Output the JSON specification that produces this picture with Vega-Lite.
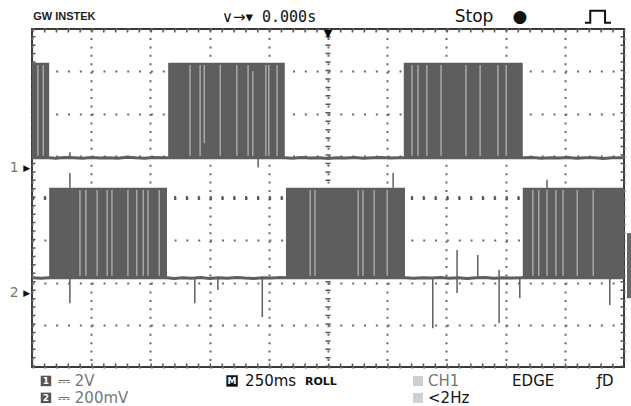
{
  "$schema": "https://vega.github.io/schema/vega-lite/v6.json",
  "width": 592,
  "height": 338,
  "autosize": "none",
  "padding": {"left": 32, "top": 29, "right": 7, "bottom": 39},
  "background": "white",
  "config": {
    "view": {"stroke": "#3a3a3a", "strokeWidth": 2},
    "axis": {"grid": true, "labels": false, "ticks": false, "domain": false, "gridColor": "#6a6a6a", "gridWidth": 2, "gridOpacity": 1},
    "axisX": {"tickCount": 10, "gridDash": [2, 6.45]},
    "axisY": {"tickCount": 8, "gridDash": [2, 9.84]},
    "text": {"font": "DejaVu Sans"}
  },
  "datasets": {
    "blocks": [
      {"ch": "1", "t": 0, "t2": 0.29, "v": 4.95, "v2": 7.2},
      {"ch": "1", "t": 2.3, "t2": 4.27, "v": 4.95, "v2": 7.2},
      {"ch": "1", "t": 6.28, "t2": 8.29, "v": 4.95, "v2": 7.2},
      {"ch": "2", "t": 0.29, "t2": 2.28, "v": 2.11, "v2": 4.24},
      {"ch": "2", "t": 4.29, "t2": 6.3, "v": 2.11, "v2": 4.24},
      {"ch": "2", "t": 8.29, "t2": 10, "v": 2.11, "v2": 4.24}
    ],
    "base": [
      {"ch": "1", "t": 0, "v": 4.95}, {"ch": "1", "t": 0.29, "v": 4.955}, {"ch": "1", "t": 0.4, "v": 4.94}, {"ch": "1", "t": 0.55, "v": 4.96}, {"ch": "1", "t": 0.7, "v": 4.95}, {"ch": "1", "t": 0.85, "v": 4.94}, {"ch": "1", "t": 1.0, "v": 4.96}, {"ch": "1", "t": 1.15, "v": 4.945}, {"ch": "1", "t": 1.3, "v": 4.955}, {"ch": "1", "t": 1.45, "v": 4.94}, {"ch": "1", "t": 1.6, "v": 4.965}, {"ch": "1", "t": 1.75, "v": 4.95}, {"ch": "1", "t": 1.9, "v": 4.94}, {"ch": "1", "t": 2.05, "v": 4.96}, {"ch": "1", "t": 2.2, "v": 4.95}, {"ch": "1", "t": 2.3, "v": 4.95},
      {"ch": "1", "t": 4.27, "v": 4.95}, {"ch": "1", "t": 4.4, "v": 4.94}, {"ch": "1", "t": 4.55, "v": 4.96}, {"ch": "1", "t": 4.7, "v": 4.945}, {"ch": "1", "t": 4.85, "v": 4.955}, {"ch": "1", "t": 5.0, "v": 4.935}, {"ch": "1", "t": 5.15, "v": 4.955}, {"ch": "1", "t": 5.3, "v": 4.945}, {"ch": "1", "t": 5.45, "v": 4.96}, {"ch": "1", "t": 5.6, "v": 4.94}, {"ch": "1", "t": 5.75, "v": 4.95}, {"ch": "1", "t": 5.9, "v": 4.96}, {"ch": "1", "t": 6.05, "v": 4.945}, {"ch": "1", "t": 6.2, "v": 4.955}, {"ch": "1", "t": 6.28, "v": 4.95},
      {"ch": "1", "t": 8.29, "v": 4.95}, {"ch": "1", "t": 8.45, "v": 4.96}, {"ch": "1", "t": 8.6, "v": 4.94}, {"ch": "1", "t": 8.75, "v": 4.955}, {"ch": "1", "t": 8.9, "v": 4.945}, {"ch": "1", "t": 9.05, "v": 4.96}, {"ch": "1", "t": 9.2, "v": 4.94}, {"ch": "1", "t": 9.35, "v": 4.955}, {"ch": "1", "t": 9.5, "v": 4.95}, {"ch": "1", "t": 9.65, "v": 4.935}, {"ch": "1", "t": 9.8, "v": 4.955}, {"ch": "1", "t": 10, "v": 4.95},
      {"ch": "2", "t": 0, "v": 2.115}, {"ch": "2", "t": 0.15, "v": 2.1}, {"ch": "2", "t": 0.29, "v": 2.11},
      {"ch": "2", "t": 2.28, "v": 2.11}, {"ch": "2", "t": 2.4, "v": 2.095}, {"ch": "2", "t": 2.55, "v": 2.115}, {"ch": "2", "t": 2.7, "v": 2.1}, {"ch": "2", "t": 2.85, "v": 2.12}, {"ch": "2", "t": 3.0, "v": 2.095}, {"ch": "2", "t": 3.15, "v": 2.11}, {"ch": "2", "t": 3.3, "v": 2.1}, {"ch": "2", "t": 3.45, "v": 2.12}, {"ch": "2", "t": 3.6, "v": 2.105}, {"ch": "2", "t": 3.75, "v": 2.095}, {"ch": "2", "t": 3.9, "v": 2.115}, {"ch": "2", "t": 4.05, "v": 2.105}, {"ch": "2", "t": 4.2, "v": 2.12}, {"ch": "2", "t": 4.29, "v": 2.11},
      {"ch": "2", "t": 6.3, "v": 2.11}, {"ch": "2", "t": 6.45, "v": 2.1}, {"ch": "2", "t": 6.6, "v": 2.115}, {"ch": "2", "t": 6.75, "v": 2.105}, {"ch": "2", "t": 6.9, "v": 2.12}, {"ch": "2", "t": 7.05, "v": 2.1}, {"ch": "2", "t": 7.2, "v": 2.115}, {"ch": "2", "t": 7.35, "v": 2.095}, {"ch": "2", "t": 7.5, "v": 2.11}, {"ch": "2", "t": 7.65, "v": 2.12}, {"ch": "2", "t": 7.8, "v": 2.1}, {"ch": "2", "t": 7.95, "v": 2.115}, {"ch": "2", "t": 8.1, "v": 2.105}, {"ch": "2", "t": 8.29, "v": 2.11},
      {"ch": "2", "t": 10, "v": 2.11}
    ],
    "stripes": [
      {"t": 0.1, "v": 5.0, "v2": 7.15}, {"t": 0.19, "v": 5.0, "v2": 7.15},
      {"t": 2.67, "v": 5.0, "v2": 7.15}, {"t": 2.84, "v": 5.0, "v2": 7.15}, {"t": 2.91, "v": 5.3, "v2": 7.15}, {"t": 3.18, "v": 5.0, "v2": 7.15}, {"t": 3.46, "v": 5.0, "v2": 7.15}, {"t": 3.65, "v": 5.0, "v2": 7.15}, {"t": 3.73, "v": 5.0, "v2": 7.0}, {"t": 3.95, "v": 5.0, "v2": 7.15}, {"t": 4.0, "v": 5.0, "v2": 7.15}, {"t": 4.14, "v": 5.0, "v2": 7.15},
      {"t": 6.42, "v": 5.0, "v2": 7.15}, {"t": 6.52, "v": 5.0, "v2": 7.15}, {"t": 6.67, "v": 5.0, "v2": 7.15}, {"t": 6.91, "v": 5.0, "v2": 7.15}, {"t": 7.33, "v": 5.0, "v2": 7.15}, {"t": 7.57, "v": 5.0, "v2": 7.15}, {"t": 7.87, "v": 5.0, "v2": 7.15}, {"t": 8.01, "v": 5.0, "v2": 7.15},
      {"t": 0.81, "v": 2.16, "v2": 4.19}, {"t": 0.91, "v": 2.16, "v2": 4.19}, {"t": 1.1, "v": 2.16, "v2": 4.19}, {"t": 1.27, "v": 2.16, "v2": 4.19}, {"t": 1.35, "v": 2.16, "v2": 4.19}, {"t": 1.62, "v": 2.16, "v2": 4.19}, {"t": 1.77, "v": 2.16, "v2": 4.19}, {"t": 1.88, "v": 2.16, "v2": 4.19}, {"t": 1.96, "v": 2.16, "v2": 4.19}, {"t": 2.15, "v": 2.16, "v2": 4.19},
      {"t": 4.7, "v": 2.16, "v2": 4.19}, {"t": 4.78, "v": 2.16, "v2": 4.19}, {"t": 5.51, "v": 2.16, "v2": 4.19}, {"t": 5.59, "v": 2.16, "v2": 4.19}, {"t": 5.78, "v": 2.16, "v2": 4.19}, {"t": 6.0, "v": 2.16, "v2": 4.19},
      {"t": 8.46, "v": 2.16, "v2": 4.19}, {"t": 8.56, "v": 2.16, "v2": 4.19}, {"t": 8.7, "v": 2.16, "v2": 4.19}, {"t": 8.85, "v": 2.16, "v2": 4.19}, {"t": 8.97, "v": 2.16, "v2": 4.19}, {"t": 9.21, "v": 2.16, "v2": 4.19}, {"t": 9.48, "v": 2.16, "v2": 4.19}
    ],
    "spikes": [
      {"t": 0.64, "v": 4.24, "v2": 4.59}, {"t": 0.64, "v": 2.11, "v2": 1.51},
      {"t": 2.75, "v": 2.11, "v2": 1.51}, {"t": 3.14, "v": 2.11, "v2": 1.82}, {"t": 3.89, "v": 2.11, "v2": 1.18},
      {"t": 6.1, "v": 4.24, "v2": 4.59}, {"t": 6.77, "v": 2.11, "v2": 0.92}, {"t": 7.18, "v": 2.77, "v2": 1.75},
      {"t": 7.53, "v": 2.11, "v2": 2.65}, {"t": 7.89, "v": 2.3, "v2": 1.04}, {"t": 8.24, "v": 2.11, "v2": 1.63},
      {"t": 8.7, "v": 4.24, "v2": 4.43}, {"t": 9.76, "v": 2.11, "v2": 1.47},
      {"t": 3.82, "v": 4.95, "v2": 4.72}, {"t": 0.64, "v": 4.95, "v2": 5.08}
    ]
  },
  "layer": [
    {
      "data": {"values": [{"t": 5, "v": 0, "v2": 8}]},
      "mark": {"type": "rule", "color": "#555", "strokeWidth": 5, "strokeDash": [1.5, 6.95]},
      "encoding": {
        "x": {"field": "t", "type": "quantitative", "title": null, "scale": {"domain": [0, 10], "nice": false, "zero": false}},
        "y": {"field": "v", "type": "quantitative", "title": null, "scale": {"domain": [0, 8], "nice": false, "zero": false}},
        "y2": {"field": "v2"}
      }
    },
    {
      "data": {"values": [{"t": 0, "t2": 10, "v": 4}]},
      "mark": {"type": "rule", "color": "#555", "strokeWidth": 4, "strokeDash": [2, 9.84]},
      "encoding": {
        "x": {"field": "t", "type": "quantitative", "title": null, "scale": {"domain": [0, 10], "nice": false, "zero": false}},
        "x2": {"field": "t2"},
        "y": {"field": "v", "type": "quantitative", "title": null, "scale": {"domain": [0, 8], "nice": false, "zero": false}}
      }
    },
    {
      "data": {"values": [{"t": 0, "v": 0, "v2": 8}, {"t": 10, "v": 0, "v2": 8}]},
      "mark": {"type": "rule", "color": "#555", "strokeWidth": 7, "strokeDash": [1.5, 6.95], "clip": true},
      "encoding": {
        "x": {"field": "t", "type": "quantitative", "title": null, "scale": {"domain": [0, 10], "nice": false, "zero": false}},
        "y": {"field": "v", "type": "quantitative", "title": null, "scale": {"domain": [0, 8], "nice": false, "zero": false}},
        "y2": {"field": "v2"}
      }
    },
    {
      "data": {"values": [{"t": 0, "t2": 10, "v": 0}, {"t": 0, "t2": 10, "v": 8}]},
      "mark": {"type": "rule", "color": "#555", "strokeWidth": 7, "strokeDash": [1.5, 10.34], "clip": true},
      "encoding": {
        "x": {"field": "t", "type": "quantitative", "title": null, "scale": {"domain": [0, 10], "nice": false, "zero": false}},
        "x2": {"field": "t2"},
        "y": {"field": "v", "type": "quantitative", "title": null, "scale": {"domain": [0, 8], "nice": false, "zero": false}}
      }
    },
    {
      "data": {"name": "blocks"},
      "mark": {"type": "rect", "color": "#5e5e5e"},
      "encoding": {
        "x": {"field": "t", "type": "quantitative", "title": null, "scale": {"domain": [0, 10], "nice": false, "zero": false}},
        "x2": {"field": "t2"},
        "y": {"field": "v", "type": "quantitative", "title": null, "scale": {"domain": [0, 8], "nice": false, "zero": false}},
        "y2": {"field": "v2"}
      }
    },
    {
      "data": {"name": "base"},
      "mark": {"type": "line", "color": "#5e5e5e", "strokeWidth": 3},
      "encoding": {
        "x": {"field": "t", "type": "quantitative", "title": null, "scale": {"domain": [0, 10], "nice": false, "zero": false}},
        "y": {"field": "v", "type": "quantitative", "title": null, "scale": {"domain": [0, 8], "nice": false, "zero": false}},
        "detail": {"field": "ch"}
      }
    },
    {
      "data": {"name": "stripes"},
      "mark": {"type": "rule", "color": "#a8a8a8", "strokeWidth": 1.5},
      "encoding": {
        "x": {"field": "t", "type": "quantitative", "title": null, "scale": {"domain": [0, 10], "nice": false, "zero": false}},
        "y": {"field": "v", "type": "quantitative", "title": null, "scale": {"domain": [0, 8], "nice": false, "zero": false}},
        "y2": {"field": "v2"}
      }
    },
    {
      "data": {"name": "spikes"},
      "mark": {"type": "rule", "color": "#5e5e5e", "strokeWidth": 1.5},
      "encoding": {
        "x": {"field": "t", "type": "quantitative", "title": null, "scale": {"domain": [0, 10], "nice": false, "zero": false}},
        "y": {"field": "v", "type": "quantitative", "title": null, "scale": {"domain": [0, 8], "nice": false, "zero": false}},
        "y2": {"field": "v2"}
      }
    },
    {
      "data": {"values": [{"t": 10.05, "t2": 10.12, "v": 1.63, "v2": 3.17}]},
      "mark": {"type": "rect", "color": "#666"},
      "encoding": {
        "x": {"field": "t", "type": "quantitative", "title": null, "scale": {"domain": [0, 10], "nice": false, "zero": false}},
        "x2": {"field": "t2"},
        "y": {"field": "v", "type": "quantitative", "title": null, "scale": {"domain": [0, 8], "nice": false, "zero": false}},
        "y2": {"field": "v2"}
      }
    },
    {
      "data": {"values": [{"t": 5, "v": 7.88, "label": "▼"}]},
      "mark": {"type": "text", "fontSize": 11, "color": "black", "align": "center", "baseline": "middle"},
      "encoding": {
        "x": {"field": "t", "type": "quantitative", "title": null, "scale": {"domain": [0, 10], "nice": false, "zero": false}},
        "y": {"field": "v", "type": "quantitative", "title": null, "scale": {"domain": [0, 8], "nice": false, "zero": false}},
        "text": {"field": "label"}
      }
    },
    {
      "data": {"values": [{"t": 0.02, "v": 8.28, "label": "GW INSTEK"}]},
      "mark": {"type": "text", "font": "Liberation Sans", "fontWeight": "bold", "fontSize": 11, "color": "#222", "align": "left", "baseline": "middle"},
      "encoding": {
        "x": {"field": "t", "type": "quantitative", "title": null, "scale": {"domain": [0, 10], "nice": false, "zero": false}},
        "y": {"field": "v", "type": "quantitative", "title": null, "scale": {"domain": [0, 8], "nice": false, "zero": false}},
        "text": {"field": "label"}
      }
    },
    {
      "data": {"values": [{"t": 3.21, "v": 8.28, "label": "∨→▾"}]},
      "mark": {"type": "text", "fontSize": 15, "color": "#111", "align": "left", "baseline": "middle"},
      "encoding": {
        "x": {"field": "t", "type": "quantitative", "title": null, "scale": {"domain": [0, 10], "nice": false, "zero": false}},
        "y": {"field": "v", "type": "quantitative", "title": null, "scale": {"domain": [0, 8], "nice": false, "zero": false}},
        "text": {"field": "label"}
      }
    },
    {
      "data": {"values": [{"t": 3.885, "v": 8.28, "label": "0.000s"}]},
      "mark": {"type": "text", "font": "DejaVu Sans Mono", "fontSize": 15, "color": "#111", "align": "left", "baseline": "middle"},
      "encoding": {
        "x": {"field": "t", "type": "quantitative", "title": null, "scale": {"domain": [0, 10], "nice": false, "zero": false}},
        "y": {"field": "v", "type": "quantitative", "title": null, "scale": {"domain": [0, 8], "nice": false, "zero": false}},
        "text": {"field": "label"}
      }
    },
    {
      "data": {"values": [{"t": 7.14, "v": 8.28, "label": "Stop"}]},
      "mark": {"type": "text", "fontSize": 17, "color": "#111", "align": "left", "baseline": "middle"},
      "encoding": {
        "x": {"field": "t", "type": "quantitative", "title": null, "scale": {"domain": [0, 10], "nice": false, "zero": false}},
        "y": {"field": "v", "type": "quantitative", "title": null, "scale": {"domain": [0, 8], "nice": false, "zero": false}},
        "text": {"field": "label"}
      }
    },
    {
      "data": {"values": [{"t": 8.24, "v": 8.28, "label": "●"}]},
      "mark": {"type": "text", "fontSize": 17, "color": "#111", "align": "center", "baseline": "middle"},
      "encoding": {
        "x": {"field": "t", "type": "quantitative", "title": null, "scale": {"domain": [0, 10], "nice": false, "zero": false}},
        "y": {"field": "v", "type": "quantitative", "title": null, "scale": {"domain": [0, 8], "nice": false, "zero": false}},
        "text": {"field": "label"}
      }
    },
    {
      "data": {"values": [
        {"i": 1, "t": 9.34, "v": 8.15}, {"i": 2, "t": 9.43, "v": 8.15}, {"i": 3, "t": 9.43, "v": 8.43},
        {"i": 4, "t": 9.68, "v": 8.43}, {"i": 5, "t": 9.68, "v": 8.15}, {"i": 6, "t": 9.78, "v": 8.15}
      ]},
      "mark": {"type": "line", "color": "#111", "strokeWidth": 2, "interpolate": "linear"},
      "encoding": {
        "x": {"field": "t", "type": "quantitative", "title": null, "scale": {"domain": [0, 10], "nice": false, "zero": false}},
        "y": {"field": "v", "type": "quantitative", "title": null, "scale": {"domain": [0, 8], "nice": false, "zero": false}},
        "order": {"field": "i"}
      }
    },
    {
      "data": {"values": [{"t": -0.30, "v": 4.71, "label": "1"}, {"t": -0.30, "v": 1.75, "label": "2"}]},
      "mark": {"type": "text", "fontSize": 14, "color": "#777", "align": "center", "baseline": "middle"},
      "encoding": {
        "x": {"field": "t", "type": "quantitative", "title": null, "scale": {"domain": [0, 10], "nice": false, "zero": false}},
        "y": {"field": "v", "type": "quantitative", "title": null, "scale": {"domain": [0, 8], "nice": false, "zero": false}},
        "text": {"field": "label"}
      }
    },
    {
      "data": {"values": [{"t": -0.09, "v": 4.71, "label": "▶"}, {"t": -0.09, "v": 1.75, "label": "▶"}]},
      "mark": {"type": "text", "fontSize": 9, "color": "#111", "align": "center", "baseline": "middle"},
      "encoding": {
        "x": {"field": "t", "type": "quantitative", "title": null, "scale": {"domain": [0, 10], "nice": false, "zero": false}},
        "y": {"field": "v", "type": "quantitative", "title": null, "scale": {"domain": [0, 8], "nice": false, "zero": false}},
        "text": {"field": "label"}
      }
    },
    {
      "data": {"values": [{"t": 0.236, "v": -0.33}, {"t": 0.236, "v": -0.73}]},
      "mark": {"type": "point", "shape": "square", "filled": true, "size": 110, "color": "#555", "opacity": 1},
      "encoding": {
        "x": {"field": "t", "type": "quantitative", "title": null, "scale": {"domain": [0, 10], "nice": false, "zero": false}},
        "y": {"field": "v", "type": "quantitative", "title": null, "scale": {"domain": [0, 8], "nice": false, "zero": false}}
      }
    },
    {
      "data": {"values": [{"t": 3.38, "v": -0.33}]},
      "mark": {"type": "point", "shape": "square", "filled": true, "size": 130, "color": "#111", "opacity": 1},
      "encoding": {
        "x": {"field": "t", "type": "quantitative", "title": null, "scale": {"domain": [0, 10], "nice": false, "zero": false}},
        "y": {"field": "v", "type": "quantitative", "title": null, "scale": {"domain": [0, 8], "nice": false, "zero": false}}
      }
    },
    {
      "data": {"values": [{"t": 6.52, "v": -0.33}, {"t": 6.52, "v": -0.73}]},
      "mark": {"type": "point", "shape": "square", "filled": true, "size": 100, "color": "#cfcfcf", "opacity": 1},
      "encoding": {
        "x": {"field": "t", "type": "quantitative", "title": null, "scale": {"domain": [0, 10], "nice": false, "zero": false}},
        "y": {"field": "v", "type": "quantitative", "title": null, "scale": {"domain": [0, 8], "nice": false, "zero": false}}
      }
    },
    {
      "data": {"values": [{"t": 0.236, "v": -0.33, "label": "1"}, {"t": 0.236, "v": -0.73, "label": "2"}, {"t": 3.38, "v": -0.33, "label": "M"}]},
      "mark": {"type": "text", "fontSize": 9, "fontWeight": "bold", "color": "white", "align": "center", "baseline": "middle"},
      "encoding": {
        "x": {"field": "t", "type": "quantitative", "title": null, "scale": {"domain": [0, 10], "nice": false, "zero": false}},
        "y": {"field": "v", "type": "quantitative", "title": null, "scale": {"domain": [0, 8], "nice": false, "zero": false}},
        "text": {"field": "label"}
      }
    },
    {
      "data": {"values": [{"t": 0.44, "v": -0.33, "label": "⎓ 2V"}, {"t": 0.44, "v": -0.73, "label": "⎓ 200mV"}, {"t": 6.69, "v": -0.33, "label": "CH1"}]},
      "mark": {"type": "text", "fontSize": 15, "color": "#777", "align": "left", "baseline": "middle"},
      "encoding": {
        "x": {"field": "t", "type": "quantitative", "title": null, "scale": {"domain": [0, 10], "nice": false, "zero": false}},
        "y": {"field": "v", "type": "quantitative", "title": null, "scale": {"domain": [0, 8], "nice": false, "zero": false}},
        "text": {"field": "label"}
      }
    },
    {
      "data": {"values": [{"t": 3.6, "v": -0.33, "label": "250ms"}, {"t": 8.11, "v": -0.33, "label": "EDGE"}, {"t": 9.54, "v": -0.33, "label": "ƒD"}, {"t": 6.69, "v": -0.73, "label": "<2Hz"}]},
      "mark": {"type": "text", "fontSize": 15, "color": "#111", "align": "left", "baseline": "middle"},
      "encoding": {
        "x": {"field": "t", "type": "quantitative", "title": null, "scale": {"domain": [0, 10], "nice": false, "zero": false}},
        "y": {"field": "v", "type": "quantitative", "title": null, "scale": {"domain": [0, 8], "nice": false, "zero": false}},
        "text": {"field": "label"}
      }
    },
    {
      "data": {"values": [{"t": 4.61, "v": -0.36, "label": "ROLL"}]},
      "mark": {"type": "text", "fontSize": 11, "fontWeight": "bold", "color": "#111", "align": "left", "baseline": "middle"},
      "encoding": {
        "x": {"field": "t", "type": "quantitative", "title": null, "scale": {"domain": [0, 10], "nice": false, "zero": false}},
        "y": {"field": "v", "type": "quantitative", "title": null, "scale": {"domain": [0, 8], "nice": false, "zero": false}},
        "text": {"field": "label"}
      }
    }
  ]
}
